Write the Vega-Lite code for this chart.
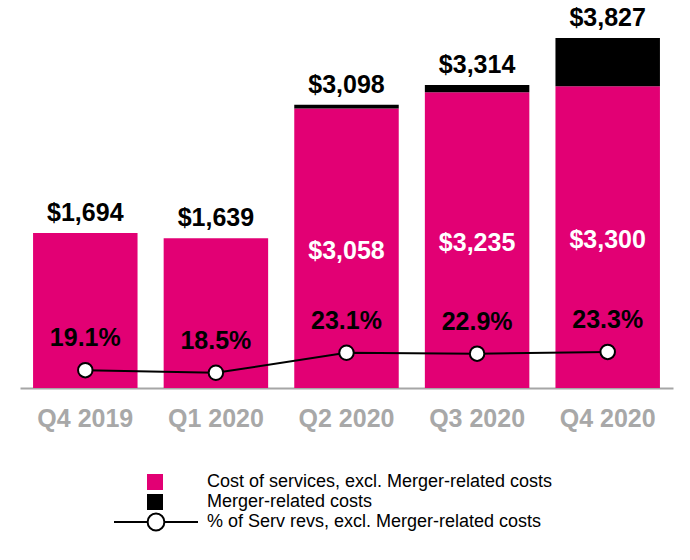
{
  "$schema": "https://vega.github.io/schema/vega-lite/v6.json",
  "width": 653,
  "height": 384,
  "autosize": "none",
  "padding": {"left": 20, "top": 4, "right": 17, "bottom": 172},
  "background": "white",
  "config": {"view": {"stroke": null}, "font": "Liberation Sans"},
  "data": {"values": [
    {"quarter": "Q4 2019", "cost": 1694, "total": 1694, "pct": 0.191},
    {"quarter": "Q1 2020", "cost": 1639, "total": 1639, "pct": 0.185},
    {"quarter": "Q2 2020", "cost": 3058, "total": 3098, "pct": 0.231},
    {"quarter": "Q3 2020", "cost": 3235, "total": 3314, "pct": 0.229},
    {"quarter": "Q4 2020", "cost": 3300, "total": 3827, "pct": 0.233}
  ]},
  "encoding": {
    "x": {
      "field": "quarter", "type": "nominal", "sort": null,
      "scale": {"paddingInner": 0.2, "paddingOuter": 0.1},
      "axis": {
        "title": null, "labelAngle": 0, "labelFont": "Liberation Sans",
        "labelFontSize": 25, "labelFontWeight": "bold", "labelColor": "#a8a8a8",
        "ticks": false, "domainColor": "#a6a6a6", "domainWidth": 2, "labelPadding": 18
      }
    }
  },
  "layer": [
    {
      "mark": {"type": "bar"},
      "encoding": {
        "y": {"field": "cost", "type": "quantitative", "stack": null, "scale": {"domain": [0, 4200]}, "axis": null},
        "color": {
          "datum": "Cost of services, excl. Merger-related costs",
          "scale": {"domain": ["Cost of services, excl. Merger-related costs", "Merger-related costs"], "range": ["#E20074", "#000000"]},
          "legend": {
            "title": null, "orient": "none", "legendX": 126, "legendY": 469,
            "symbolType": "square", "symbolSize": 256, "symbolStrokeWidth": 0,
            "labelFont": "Liberation Sans", "labelFontSize": 18, "labelColor": "#000000",
            "labelOffset": 43, "labelLimit": 0, "rowPadding": 2, "padding": 0
          }
        }
      }
    },
    {
      "mark": {"type": "bar"},
      "encoding": {
        "y": {"field": "cost", "type": "quantitative", "stack": null, "scale": {"domain": [0, 4200]}, "axis": null},
        "y2": {"field": "total"},
        "color": {"datum": "Merger-related costs"}
      }
    },
    {
      "mark": {"type": "text", "fontSize": 25, "fontWeight": "bold", "baseline": "alphabetic", "dy": -12, "color": "#000000"},
      "encoding": {
        "y": {"field": "total", "type": "quantitative", "scale": {"domain": [0, 4200]}, "axis": null},
        "text": {"field": "total", "type": "quantitative", "format": "$,.0f"}
      }
    },
    {
      "transform": [{"filter": "datum.total > datum.cost"}],
      "mark": {"type": "text", "fontSize": 25, "fontWeight": "bold", "baseline": "middle", "color": "#ffffff", "dy": 3},
      "encoding": {
        "y": {"field": "cost", "type": "quantitative", "scale": {"domain": [0, 8400]}, "axis": null},
        "text": {"field": "cost", "type": "quantitative", "format": "$,.0f"}
      }
    },
    {
      "mark": {"type": "line", "color": "#000000", "strokeWidth": 2},
      "encoding": {
        "y": {"field": "pct", "type": "quantitative", "scale": {"domain": [0.15, 1.033]}, "axis": null},
        "stroke": {
          "datum": "% of Serv revs, excl. Merger-related costs",
          "scale": {"range": ["#000000"]},
          "legend": {
            "title": null, "orient": "none", "legendX": 93, "legendY": 475,
            "symbolType": "M-1,0L-0.2,0M0.2,0L1,0M0.2,0A0.2,0.2,0,1,1,-0.2,0A0.2,0.2,0,1,1,0.2,0Z",
            "symbolSize": 7056, "symbolStrokeWidth": 2, "symbolStrokeColor": "#000000", "symbolFillColor": "#ffffff",
            "labelFont": "Liberation Sans", "labelFontSize": 18, "labelColor": "#000000",
            "labelOffset": 8, "labelLimit": 0, "padding": 0,
            "encode": {"symbols": {"update": {"fill": {"value": "#ffffff"}, "stroke": {"value": "#000000"}, "strokeWidth": {"value": 2}, "opacity": {"value": 1}}}}
          }
        }
      }
    },
    {
      "mark": {"type": "point", "shape": "circle", "filled": true, "fill": "#ffffff", "stroke": "#000000", "strokeWidth": 2, "size": 210, "opacity": 1},
      "encoding": {
        "y": {"field": "pct", "type": "quantitative", "scale": {"domain": [0.15, 1.033]}, "axis": null}
      }
    },
    {
      "mark": {"type": "text", "fontSize": 25, "fontWeight": "bold", "baseline": "middle", "dy": -32, "color": "#000000"},
      "encoding": {
        "y": {"field": "pct", "type": "quantitative", "scale": {"domain": [0.15, 1.033]}, "axis": null},
        "text": {"field": "pct", "type": "quantitative", "format": ".1%"}
      }
    }
  ],
  "resolve": {"scale": {"y": "independent"}}
}
